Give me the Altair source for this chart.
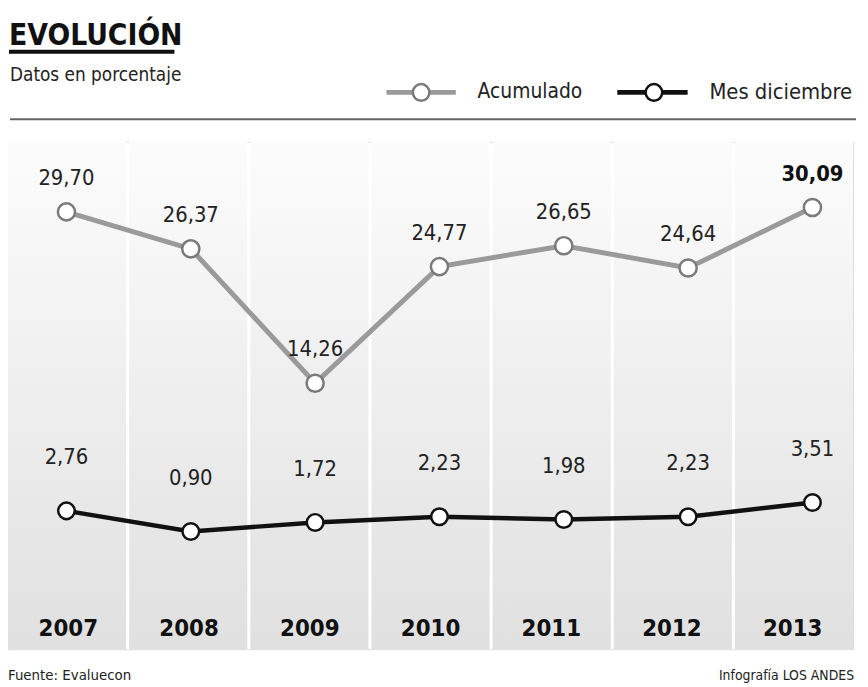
import altair as alt
import pandas as pd

years = ["2007", "2008", "2009", "2010", "2011", "2012", "2013"]
acumulado = [29.70, 26.37, 14.26, 24.77, 26.65, 24.64, 30.09]
mes_diciembre = [2.76, 0.90, 1.72, 2.23, 1.98, 2.23, 3.51]
series_names = ["Acumulado", "Mes diciembre"]

FONT = "DejaVu Sans Condensed, Roboto Condensed, Roboto, sans-serif"
W, H = 853, 512

rows = []
for y, a, m in zip(years, acumulado, mes_diciembre):
    rows.append({"year": y, "serie": series_names[0], "v": a,
                 "lab": f"{a:.2f}".replace(".", ","), "last": y == years[-1]})
    rows.append({"year": y, "serie": series_names[1], "v": m,
                 "lab": f"{m:.2f}".replace(".", ","), "last": False})
df = pd.DataFrame(rows)
df_a = df[df.serie == series_names[0]]
df_m = df[df.serie == series_names[1]]
df_years = pd.DataFrame({"year": years})

# column (band) scale and point scale for the series
xs = alt.X("year:O", scale=alt.Scale(domain=years, paddingInner=0.025, paddingOuter=0), axis=None)
xp = alt.X("year:O", scale=alt.Scale(type="point", domain=years, range=[59, 812], padding=0), axis=None)
ys = alt.Y("v:Q", scale=alt.Scale(domain=[-9.7, 36.0], nice=False, zero=False), axis=None)

grad = alt.Gradient(gradient="linear", x1=0, y1=0, x2=0, y2=1,
                    stops=[alt.GradientStop(color="#fcfcfc", offset=0),
                           alt.GradientStop(color="#e0e0e0", offset=1)])

cols = alt.Chart(df_years).mark_rect(fill=grad).encode(
    x=xs, y=alt.value(0), y2=alt.value(H))

year_txt = alt.Chart(df_years).mark_text(
    font=FONT, fontSize=24, fontWeight="bold", color="#111", baseline="middle"
).encode(x=xs, y=alt.value(H - 20), text="year:N")

line_a = alt.Chart(df_a).mark_line(color="#9a9a9a", strokeWidth=5).encode(x=xp, y=ys)
pts_a = alt.Chart(df_a).mark_point(filled=False, fill="white", stroke="#7a7a7a",
                                   strokeWidth=2.5, size=300, opacity=1).encode(x=xp, y=ys)
lab_a = alt.Chart(df_a[~df_a["last"]]).mark_text(font=FONT, fontSize=22, color="#222", dy=-22,
                                  baseline="bottom").encode(x=xp, y=ys, text="lab:N")
lab_a_last = alt.Chart(df_a[df_a["last"]]).mark_text(font=FONT, fontSize=22, color="#111", dy=-22,
                                  fontWeight="bold", baseline="bottom").encode(x=xp, y=ys, text="lab:N")

line_m = alt.Chart(df_m).mark_line(color="#111", strokeWidth=4.5).encode(x=xp, y=ys)
pts_m = alt.Chart(df_m).mark_point(filled=False, fill="white", stroke="#111",
                                   strokeWidth=2.5, size=280, opacity=1).encode(x=xp, y=ys)
lab_m = alt.Chart(df_m).mark_text(font=FONT, fontSize=22, color="#222", dy=-42,
                                  baseline="bottom").encode(x=xp, y=ys, text="lab:N")

one = pd.DataFrame({"a": [0]})

def txt(s, x, y, size, weight="normal", align="left", color="#222", baseline="alphabetic"):
    return alt.Chart(pd.DataFrame({"t": [s]})).mark_text(
        font=FONT, fontSize=size, fontWeight=weight, align=align, color=color,
        baseline=baseline).encode(x=alt.value(x), y=alt.value(y), text="t:N")

def rule(x1, x2, y, color, w):
    return alt.Chart(one).mark_rule(color=color, strokeWidth=w).encode(
        x=alt.value(x1), x2=alt.value(x2), y=alt.value(y))

def circ(x, y, stroke):
    return alt.Chart(one).mark_point(filled=False, fill="white", stroke=stroke,
                                     strokeWidth=2.5, size=280, opacity=1).encode(
        x=alt.value(x), y=alt.value(y))

header = [
    txt("EVOLUCIÓN", 1, -98, 30, weight="bold", color="#111"),
    rule(1, 168, -91, "#111", 4),
    txt("Datos en porcentaje", 2, -62, 19),
    rule(382, 452, -50, "#9a9a9a", 5), circ(417, -50, "#7a7a7a"),
    txt("Acumulado", 474, -50, 21, baseline="middle"),
    rule(615, 686, -50, "#111", 5), circ(652, -50, "#111"),
    txt("Mes diciembre", 708, -50, 22, baseline="middle"),
    rule(2, 856, -23, "#666", 2),
    txt("Fuente: Evaluecon", 0, 543, 15),
    txt("Infografía LOS ANDES", 854, 543, 14, align="right"),
]

chart = alt.layer(cols, year_txt, line_a, line_m, pts_a, pts_m, lab_a, lab_a_last, lab_m, *header).resolve_scale(
    x="independent"
).properties(
    width=W, height=H,
    autosize=alt.AutoSizeParams(type="none"),
    padding={"top": 132, "left": 0, "right": 7, "bottom": 35},
).configure_view(stroke=None).configure(background="white")

chart.save("out.html", embed_options={"renderer": "svg", "actions": False})
